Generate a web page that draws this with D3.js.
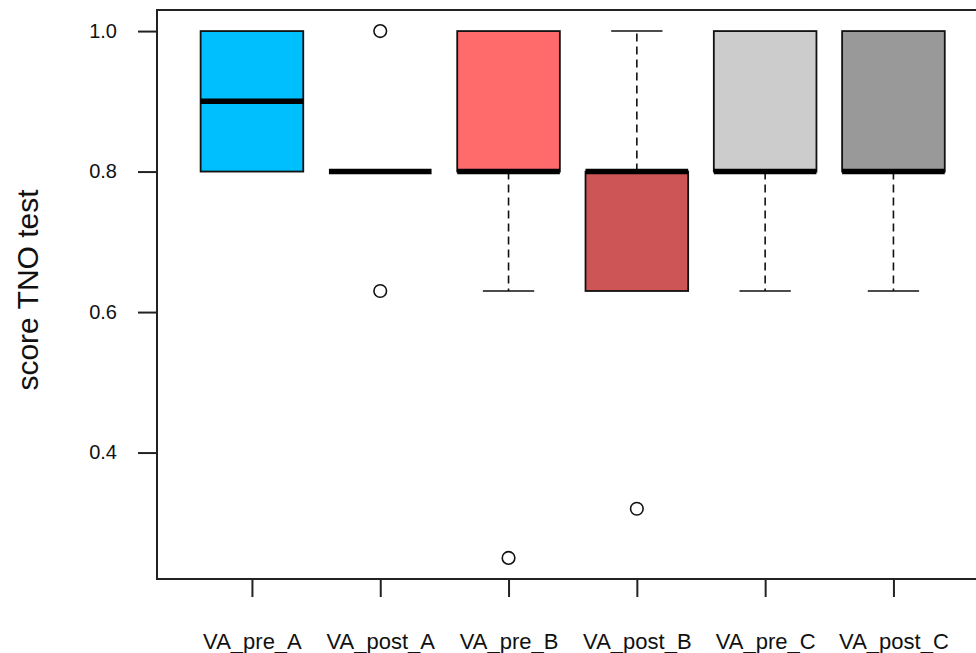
<!DOCTYPE html>
<html>
<head>
<meta charset="utf-8">
<script src="https://cdn.jsdelivr.net/npm/d3@7"></script>
<style>
  html, body { margin: 0; padding: 0; background: #fff; }
  svg { display: block; }
  text { font-family: "Liberation Sans", Arial, sans-serif; fill: #111; }
</style>
</head>
<body>
<script>
// ---- data ----
const categories = ["VA_pre_A", "VA_post_A", "VA_pre_B", "VA_post_B", "VA_pre_C", "VA_post_C"];
const whiskerLow  = [0.80, 0.80, 0.63, 0.63, 0.63, 0.63];
const q1          = [0.80, 0.80, 0.80, 0.63, 0.80, 0.80];
const medians     = [0.90, 0.80, 0.80, 0.80, 0.80, 0.80];
const q3          = [1.00, 0.80, 1.00, 0.80, 1.00, 1.00];
const whiskerHigh = [1.00, 0.80, 1.00, 1.00, 1.00, 1.00];
const outliers    = [[], [1.00, 0.63], [0.25], [0.32], [], []];
const boxColors   = ["#00BFFF", "#FFFFFF", "#FF6A6A", "#CD5555", "#CCCCCC", "#999999"];
const yTicks      = [0.4, 0.6, 0.8, 1.0];
const yLabel      = "score TNO test";

// ---- layout ----
const W = 976, H = 653;
const plotL = 157, plotT = 10, plotB = 579;
const unit = 128.3;
const plotR = plotL + 6.48 * unit;

const svg = d3.select("body").append("svg").attr("width", W).attr("height", H);

const x = d3.scaleLinear().domain([0.26, 6.74]).range([plotL, plotR]);
const y = d3.scaleLinear().domain([0.22, 1.03]).range([plotB, plotT]);
const boxW = 0.8 * unit;
const capW = 0.4 * unit;

const data = categories.map((c, i) => ({
  name: c, pos: i + 1, wl: whiskerLow[i], q1: q1[i], med: medians[i], q3: q3[i], wh: whiskerHigh[i],
  out: outliers[i], color: boxColors[i]
}));

const g = svg.append("g");

// whiskers (dashed)
const bx = g.selectAll("g.box").data(data).join("g").attr("class", "box");
bx.filter(d => d.wh > d.q3).append("line")
  .attr("x1", d => x(d.pos)).attr("x2", d => x(d.pos))
  .attr("y1", d => y(d.q3)).attr("y2", d => y(d.wh))
  .attr("stroke", "#111").attr("stroke-width", 1.6).attr("stroke-dasharray", "8,5");
bx.filter(d => d.wl < d.q1).append("line")
  .attr("x1", d => x(d.pos)).attr("x2", d => x(d.pos))
  .attr("y1", d => y(d.q1)).attr("y2", d => y(d.wl))
  .attr("stroke", "#111").attr("stroke-width", 1.6).attr("stroke-dasharray", "8,5");
// caps
bx.filter(d => d.wh > d.q3).append("line")
  .attr("x1", d => x(d.pos) - capW / 2).attr("x2", d => x(d.pos) + capW / 2)
  .attr("y1", d => y(d.wh)).attr("y2", d => y(d.wh))
  .attr("stroke", "#111").attr("stroke-width", 1.6);
bx.filter(d => d.wl < d.q1).append("line")
  .attr("x1", d => x(d.pos) - capW / 2).attr("x2", d => x(d.pos) + capW / 2)
  .attr("y1", d => y(d.wl)).attr("y2", d => y(d.wl))
  .attr("stroke", "#111").attr("stroke-width", 1.6);
// boxes
bx.filter(d => d.q3 > d.q1).append("rect")
  .attr("x", d => x(d.pos) - boxW / 2).attr("width", boxW)
  .attr("y", d => y(d.q3)).attr("height", d => y(d.q1) - y(d.q3))
  .attr("fill", d => d.color).attr("stroke", "#111").attr("stroke-width", 1.8);
// medians
bx.append("line")
  .attr("x1", d => x(d.pos) - boxW / 2).attr("x2", d => x(d.pos) + boxW / 2)
  .attr("y1", d => y(d.med)).attr("y2", d => y(d.med))
  .attr("stroke", "#000").attr("stroke-width", 5.5);
// outliers
bx.selectAll("circle").data(d => d.out.map(v => ({ pos: d.pos, v }))).join("circle")
  .attr("cx", d => x(d.pos)).attr("cy", d => y(d.v)).attr("r", 6.3)
  .attr("fill", "none").attr("stroke", "#111").attr("stroke-width", 1.6);

// frame
svg.append("rect")
  .attr("x", plotL).attr("y", plotT).attr("width", plotR - plotL).attr("height", plotB - plotT)
  .attr("fill", "none").attr("stroke", "#222").attr("stroke-width", 2);

// y axis
const yAxis = svg.append("g").attr("transform", `translate(${plotL},0)`)
  .call(d3.axisLeft(y).tickValues(yTicks).tickFormat(d3.format(".1f")).tickSize(19).tickPadding(21));
yAxis.select(".domain").remove();
yAxis.selectAll(".tick line").attr("stroke", "#222").attr("stroke-width", 2);
yAxis.selectAll(".tick text").attr("font-size", 20).attr("fill", "#111")
  .style("font-family", "'Liberation Sans', Arial, sans-serif");

// x axis
const xAxis = svg.append("g").attr("transform", `translate(0,${plotB})`)
  .call(d3.axisBottom(x).tickValues(data.map(d => d.pos)).tickFormat((d, i) => categories[i]).tickSize(18));
xAxis.select(".domain").remove();
xAxis.selectAll(".tick line").attr("stroke", "#222").attr("stroke-width", 2);
xAxis.selectAll(".tick text").attr("font-size", 22).attr("fill", "#111")
  .attr("y", 62).attr("dy", "0.35em")
  .style("font-family", "'Liberation Sans', Arial, sans-serif");

// y label
svg.append("text")
  .attr("transform", `translate(38,290) rotate(-90)`)
  .attr("text-anchor", "middle")
  .attr("font-size", 30)
  .text(yLabel);
</script>
</body>
</html>
